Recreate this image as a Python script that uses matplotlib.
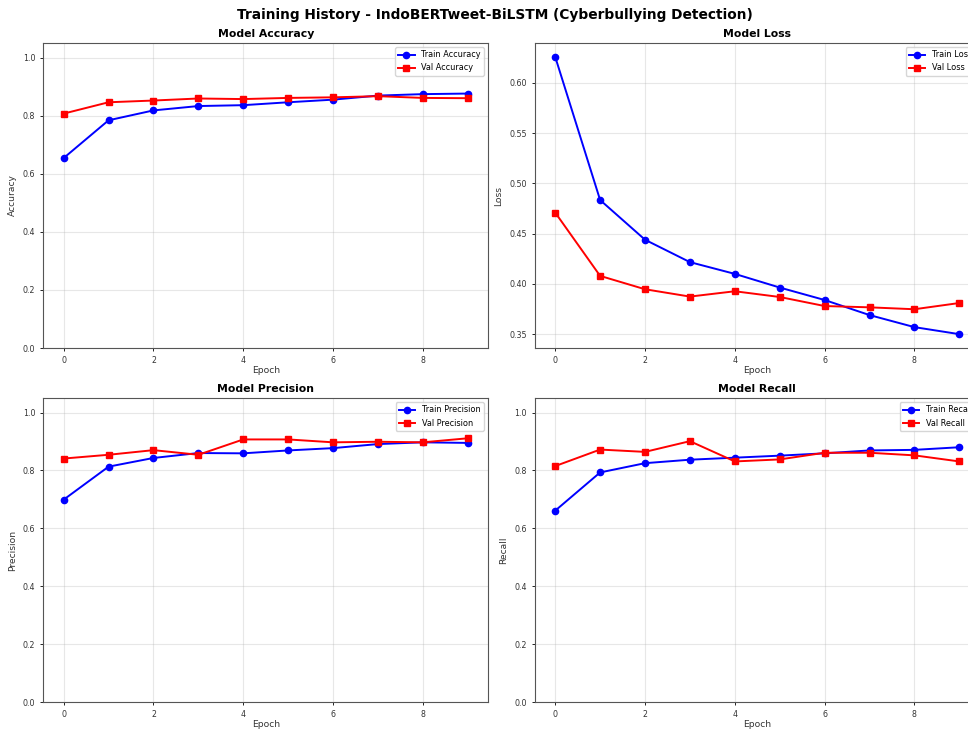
import matplotlib
matplotlib.use('Agg')
import matplotlib.pyplot as plt

# training history values
epochs = list(range(10))

train_acc = [0.654, 0.784, 0.818, 0.833, 0.836, 0.846, 0.855, 0.869, 0.874, 0.876]
val_acc = [0.807, 0.846, 0.852, 0.859, 0.857, 0.861, 0.863, 0.867, 0.861, 0.860]

train_loss = [0.626, 0.4835, 0.444, 0.4217, 0.410, 0.3964, 0.384, 0.369, 0.357, 0.350]
val_loss = [0.471, 0.408, 0.3947, 0.3874, 0.3927, 0.387, 0.378, 0.3767, 0.3748, 0.381]

train_prec = [0.699, 0.813, 0.843, 0.860, 0.859, 0.869, 0.877, 0.891, 0.897, 0.895]
val_prec = [0.841, 0.854, 0.870, 0.854, 0.907, 0.907, 0.897, 0.899, 0.897, 0.911]

train_rec = [0.661, 0.793, 0.825, 0.837, 0.844, 0.851, 0.859, 0.869, 0.871, 0.880]
val_rec = [0.815, 0.872, 0.864, 0.901, 0.831, 0.838, 0.861, 0.861, 0.852, 0.831]

plt.rcParams['font.size'] = 6


def draw(ax, train, val, name, ylabel, fixed_ylim=True):
    ax.plot(epochs, train, 'b-o', label='Train ' + name, linewidth=1.4, markersize=4.5)
    ax.plot(epochs, val, 'r-s', label='Val ' + name, linewidth=1.4, markersize=4.5)
    ax.set_title('Model ' + name, fontsize=7.8, fontweight='bold', pad=4)
    ax.set_xlabel('Epoch', fontsize=6.6, color='#333333', labelpad=0.5)
    ax.set_ylabel(ylabel, fontsize=6.6, color='#333333')
    ax.tick_params(labelsize=5.7, length=2.5, width=0.6, labelcolor='#333333')
    if fixed_ylim:
        ax.set_ylim(0, 1.05)
    ax.legend(loc='upper right', fontsize=5.9)
    ax.grid(True, alpha=0.3)
    for s in ax.spines.values():
        s.set_linewidth(0.8)
        s.set_color('#555555')


def main():
    fig = plt.figure(figsize=(9.68, 7.29), dpi=100)
    w, h = 0.4592, 0.4184
    ax1 = fig.add_axes([0.0449, 0.5226, w, h])
    ax2 = fig.add_axes([0.5527, 0.5226, w, h])
    ax3 = fig.add_axes([0.0449, 0.0370, w, 0.417])
    ax4 = fig.add_axes([0.5527, 0.0370, w, 0.417])

    draw(ax1, train_acc, val_acc, 'Accuracy', 'Accuracy')
    draw(ax2, train_loss, val_loss, 'Loss', 'Loss', fixed_ylim=False)
    draw(ax3, train_prec, val_prec, 'Precision', 'Precision')
    draw(ax4, train_rec, val_rec, 'Recall', 'Recall')

    fig.suptitle('Training History - IndoBERTweet-BiLSTM (Cyberbullying Detection)',
                 fontsize=9.9, fontweight='bold', x=0.511, y=0.989)
    fig.savefig('out.png', dpi=100)


if __name__ == '__main__':
    main()
